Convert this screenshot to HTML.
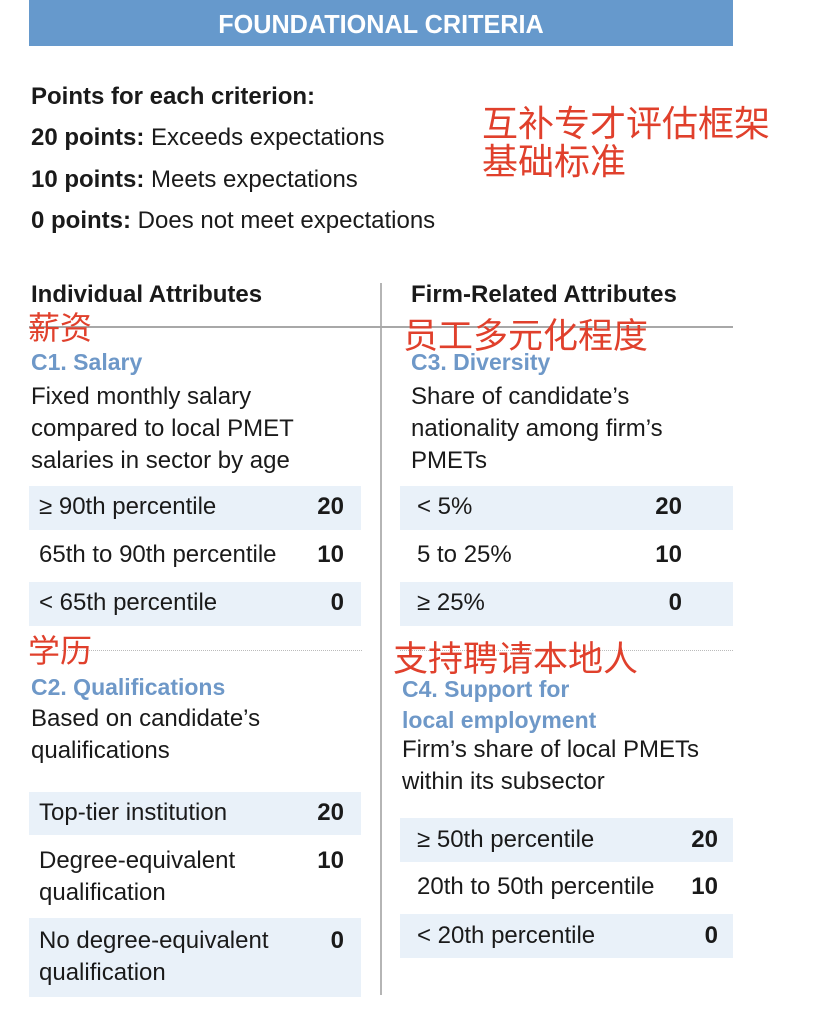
<!DOCTYPE html>
<html><head><meta charset="utf-8"><style>
html,body{margin:0;padding:0;background:#fff;}
body{width:816px;height:1012px;position:relative;overflow:hidden;font-family:"Liberation Sans","Noto Sans CJK SC",sans-serif;color:#1a1a1a;}
.a{position:absolute;white-space:nowrap;}
.t{font-size:24px;line-height:26px;height:26px;}
.b{font-weight:bold;}
.blue{color:#6e98c8;font-weight:bold;font-size:23px;line-height:26px;}
.cn{color:#e0402c;font-family:"Noto Sans CJK SC","WenQuanYi Zen Hei",sans-serif;}
.row{position:absolute;background:#e9f1f9;}
.v{font-weight:bold;text-align:right;width:40px;}
</style></head><body>
<div class="a" style="left:29px;top:0;width:704px;height:46px;background:#6699cc;"></div>
<div class="a b" style="left:29px;width:704px;top:8px;text-align:center;color:#fff;font-size:26px;line-height:32px;transform:scaleX(0.97);">FOUNDATIONAL CRITERIA</div>

<div class="a t b" style="left:31px;top:84px;">Points for each criterion:</div>
<div class="a t" style="left:31px;top:125px;"><b>20 points:</b> Exceeds expectations</div>
<div class="a t" style="left:31px;top:167px;"><b>10 points:</b> Meets expectations</div>
<div class="a t" style="left:31px;top:208px;"><b>0 points:</b> Does not meet expectations</div>

<div class="a cn" style="left:482px;top:102px;font-size:36px;line-height:38px;">互补专才评估框架<br>基础标准</div>

<div class="a t b" style="left:31px;top:282px;">Individual Attributes</div>
<div class="a t b" style="left:411px;top:282px;">Firm-Related Attributes</div>
<div class="a" style="left:380px;top:283px;width:2px;height:712px;background:#b5b5b5;"></div>
<div class="a" style="left:29px;top:326px;width:704px;height:2px;background:#a8a8a8;"></div>

<div class="a cn" style="left:28px;top:308px;font-size:32px;line-height:36px;">薪资</div>
<div class="a cn" style="left:403px;top:315px;font-size:35px;line-height:38px;">员工多元化程度</div>

<div class="a blue" style="left:31px;top:349px;">C1. Salary</div>
<div class="a t" style="left:31px;top:381px;line-height:32px;height:auto;">Fixed monthly salary<br>compared to local PMET<br>salaries in sector by age</div>
<div class="a blue" style="left:411px;top:349px;">C3. Diversity</div>
<div class="a t" style="left:411px;top:381px;line-height:32px;height:auto;">Share of candidate’s<br>nationality among firm’s<br>PMETs</div>

<div class="row" style="left:29px;top:486px;width:332px;height:44px;"></div>
<div class="row" style="left:29px;top:582px;width:332px;height:44px;"></div>
<div class="row" style="left:400px;top:486px;width:333px;height:44px;"></div>
<div class="row" style="left:400px;top:582px;width:333px;height:44px;"></div>

<div class="a t" style="left:39px;top:494px;">≥ 90th percentile</div>
<div class="a t v" style="left:304px;top:494px;">20</div>
<div class="a t" style="left:39px;top:542px;">65th to 90th percentile</div>
<div class="a t v" style="left:304px;top:542px;">10</div>
<div class="a t" style="left:39px;top:590px;">&lt; 65th percentile</div>
<div class="a t v" style="left:304px;top:590px;">0</div>

<div class="a t" style="left:417px;top:494px;">&lt; 5%</div>
<div class="a t v" style="left:642px;top:494px;">20</div>
<div class="a t" style="left:417px;top:542px;">5 to 25%</div>
<div class="a t v" style="left:642px;top:542px;">10</div>
<div class="a t" style="left:417px;top:590px;">≥ 25%</div>
<div class="a t v" style="left:642px;top:590px;">0</div>

<div class="a" style="left:62px;top:650px;width:300px;border-top:1px dotted #bbb;"></div>
<div class="a" style="left:400px;top:650px;width:333px;border-top:1px dotted #bbb;"></div>

<div class="a cn" style="left:28px;top:631px;font-size:32px;line-height:36px;">学历</div>
<div class="a cn" style="left:393px;top:638px;font-size:35px;line-height:38px;">支持聘请本地人</div>

<div class="a blue" style="left:31px;top:674px;">C2. Qualifications</div>
<div class="a t" style="left:31px;top:703px;line-height:32px;height:auto;">Based on candidate’s<br>qualifications</div>
<div class="a blue" style="left:402px;top:674px;line-height:31px;">C4. Support for<br>local employment</div>
<div class="a t" style="left:402px;top:734px;line-height:32px;height:auto;">Firm’s share of local PMETs<br>within its subsector</div>

<div class="row" style="left:29px;top:792px;width:332px;height:43px;"></div>
<div class="row" style="left:29px;top:918px;width:332px;height:79px;"></div>
<div class="a t" style="left:39px;top:800px;">Top-tier institution</div>
<div class="a t v" style="left:304px;top:800px;">20</div>
<div class="a t" style="left:39px;top:845px;line-height:32px;height:auto;">Degree-equivalent<br>qualification</div>
<div class="a t v" style="left:304px;top:848px;">10</div>
<div class="a t" style="left:39px;top:925px;line-height:32px;height:auto;">No degree-equivalent<br>qualification</div>
<div class="a t v" style="left:304px;top:928px;">0</div>

<div class="row" style="left:400px;top:818px;width:333px;height:44px;"></div>
<div class="row" style="left:400px;top:914px;width:333px;height:44px;"></div>
<div class="a t" style="left:417px;top:827px;">≥ 50th percentile</div>
<div class="a t v" style="left:678px;top:827px;">20</div>
<div class="a t" style="left:417px;top:874px;">20th to 50th percentile</div>
<div class="a t v" style="left:678px;top:874px;">10</div>
<div class="a t" style="left:417px;top:923px;">&lt; 20th percentile</div>
<div class="a t v" style="left:678px;top:923px;">0</div>
</body></html>
